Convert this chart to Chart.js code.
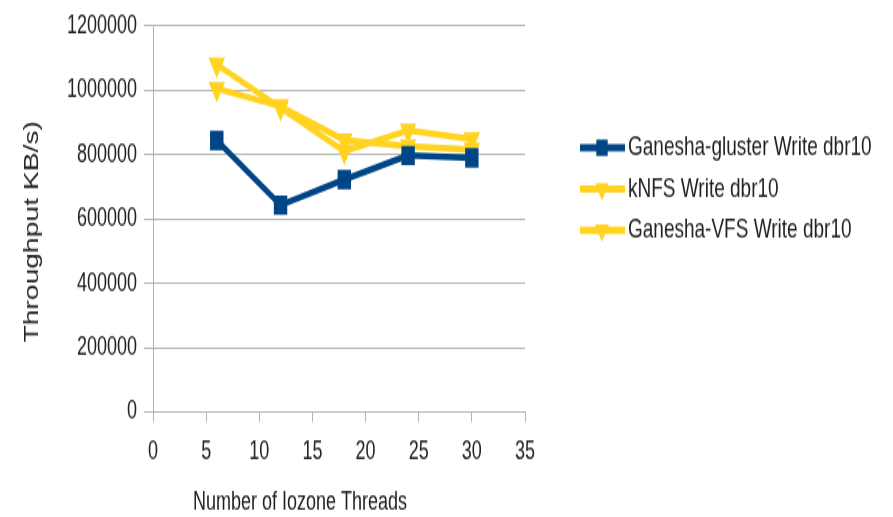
<!DOCTYPE html>
<html>
<head>
<meta charset="utf-8">
<script src="https://cdn.jsdelivr.net/npm/chart.js@4.4.1/dist/chart.umd.min.js"></script>
<style>
	html { overflow: hidden; }
	body { margin: 0; padding: 0; background: #fff; height: 517px; }
	/* the reference picture is stretched vertically, so the canvas is too */
	#wrap { width: 893px; height: 357px; transform: scaleY(1.4482); transform-origin: 0 0; }
	#lineChart { display: block; }
</style>
</head>
<body>
<div id="wrap"><canvas id="lineChart" width="893" height="357"></canvas></div>
<script>
// Data
const threads = [6, 12, 18, 24, 30];
const glusterWrite = [844000, 643000, 722000, 797000, 790000];
const knfsWrite = [1005000, 950000, 845000, 826000, 815000];
const vfsWrite = [1080000, 945000, 810000, 875000, 848000];
const seriesLabels = ["Ganesha-gluster Write dbr10", "kNFS Write dbr10", "Ganesha-VFS Write dbr10"];
const xTitle = "Number of Iozone Threads";
const yTitle = "Throughput KB/s)";

const BLUE = "#004586";
const YELLOW = "#ffd320";
const GRID = "#b3b3b3";
const TEXT = "#222222";
const FONT = "'Liberation Sans', Arial, sans-serif";

function toPoints(values) {
	return threads.map((t, i) => ({ x: t, y: values[i] }));
}

function makeDataset(label, values, color, style) {
	return {
		label: label,
		data: toPoints(values),
		borderColor: color,
		backgroundColor: color,
		borderWidth: 4.5,
		pointStyle: style,
		pointRotation: style === "triangle" ? 180 : 0,
		pointRadius: 9.5,
		pointBorderWidth: 0,
		tension: 0,
	};
}

/*######################################*
||  Legend + axis titles drawn by hand  ||
*######################################*/

const legendPlugin = {
	id: "sideLegend",
	afterDraw(chart) {
		const ctx = chart.ctx;
		const rows = [102, 130.5, 159];
		ctx.save();
		chart.data.datasets.forEach((ds, i) => {
			const y = rows[i];
			ctx.strokeStyle = ds.borderColor;
			ctx.lineWidth = 5;
			ctx.beginPath();
			ctx.moveTo(580, y);
			ctx.lineTo(625, y);
			ctx.stroke();
			ctx.fillStyle = ds.backgroundColor;
			Chart.helpers.drawPoint(ctx, {
				pointStyle: ds.pointStyle,
				rotation: ds.pointRotation,
				radius: 8,
				borderWidth: 0,
			}, 602, y);
			ctx.fillStyle = TEXT;
			ctx.font = "19px " + FONT;
			ctx.textAlign = "left";
			ctx.textBaseline = "middle";
			ctx.fillText(ds.label, 628, y);
		});
		// axis titles are off the plot centre in the reference
		ctx.font = "18px " + FONT;
		ctx.textAlign = "center";
		ctx.fillText(xTitle, 300, 347);
		ctx.translate(33, 160);
		ctx.rotate(-Math.PI / 2);
		ctx.font = "19.5px " + FONT;
		ctx.fillText(yTitle, 0, 0);
		ctx.restore();
	},
};

new Chart("lineChart", {
	type: "line",
	data: {
		datasets: [
			makeDataset(seriesLabels[0], glusterWrite, BLUE, "rect"),
			makeDataset(seriesLabels[1], knfsWrite, YELLOW, "triangle"),
			makeDataset(seriesLabels[2], vfsWrite, YELLOW, "triangle"),
		],
	},
	options: {
		responsive: false,
		animation: false,
		devicePixelRatio: 1,
		layout: {
			padding: { left: 0, right: 368, top: 17, bottom: 0 },
		},
		plugins: {
			legend: { display: false },
			tooltip: { enabled: false },
		},
		scales: {
			x: {
				type: "linear",
				min: 0,
				max: 35,
				ticks: {
					stepSize: 5,
					color: TEXT,
					padding: 10,
					font: { family: FONT, size: 18 },
				},
				grid: {
					drawOnChartArea: false,
					drawTicks: true,
					tickLength: 7,
					color: GRID,
				},
				border: { color: GRID },
				afterFit: (scale) => {
					scale.height = 72.5;
				},
			},
			y: {
				min: 0,
				max: 1200000,
				ticks: {
					stepSize: 200000,
					color: TEXT,
					padding: 7,
					font: { family: FONT, size: 18 },
					callback: (v) => String(v),
				},
				grid: {
					color: GRID,
					tickLength: 9,
				},
				border: { color: GRID },
				afterFit: (scale) => {
					scale.width = 153;
				},
			},
		},
	},
	plugins: [legendPlugin],
});
</script>
</body>
</html>
